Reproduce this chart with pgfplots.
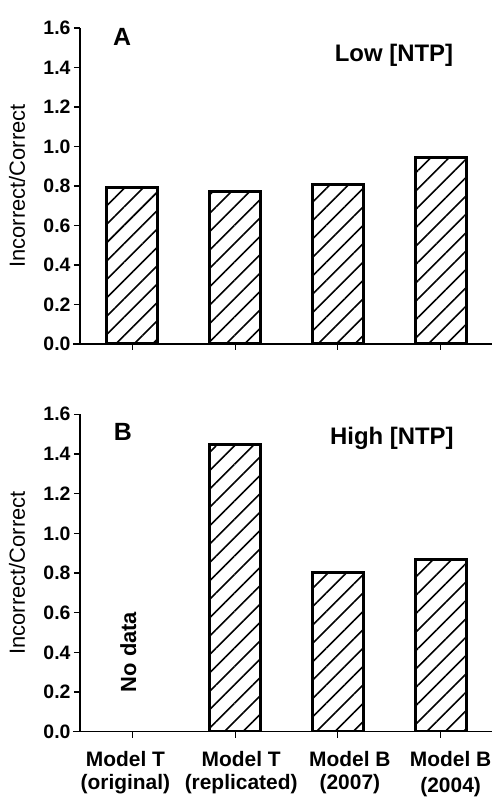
\documentclass[border=0pt]{standalone}
\usepackage{fontspec}
\setmainfont{Liberation Sans}
\usepackage{pgfplots}
\pgfplotsset{compat=1.18}
\usetikzlibrary{patterns.meta}
\begin{document}
\begin{tikzpicture}
\path (0bp,0bp) rectangle (500bp,809bp);
\pgfplotsset{myaxis/.style={
  scale only axis, width=412bp,
  xmin=-0.51, xmax=3.5, ymin=0, ymax=1.6,
  axis lines*=left,
  axis line style={line width=1.4bp, black},
  x axis line style={shorten <=-7bp},
  xtick={0,1,2,3},
  ytick={0,0.2,0.4,0.6,0.8,1.0,1.2,1.4,1.6},
  tick style={line width=1.2bp, black},
  major tick length=6bp, tick align=outside,
  /pgf/number format/assume math mode=true,
  yticklabel style={/pgf/number format/.cd, fixed, fixed zerofill, precision=1},
  ticklabel style={font=\fontsize{19.5}{21}\selectfont\bfseries},
  ylabel={Incorrect/Correct},
  ylabel style={font=\fontsize{22}{24}\selectfont, at={(axis description cs:-0.153,0.5)}, anchor=center},
  ybar, bar width=51bp,
}, mybar/.style={draw=black, line width=3bp, pattern={Lines[angle=45,distance=13bp,line width=1.6bp]}, pattern color=black}}
\begin{axis}[myaxis, at={(80bp,465bp)}, anchor=south west, height=316bp, xticklabels={}]
\addplot[mybar] coordinates {(0,0.79) (1,0.77) (2,0.81) (3,0.945)};
\node[font=\fontsize{25}{27}\selectfont\bfseries] at (axis description cs:0.102,0.972) {A};
\node[font=\fontsize{24}{26}\selectfont\bfseries] at (axis description cs:0.762,0.914) {Low [NTP]};
\end{axis}
\begin{axis}[myaxis, at={(80bp,77.3bp)}, anchor=south west, height=317.4bp,
  xticklabels={
    {\begin{tabular}{@{}c@{}}Model T\\(original)\end{tabular}\kern14bp},
    {\kern12bp\begin{tabular}{@{}c@{}}Model T\\(replicated)\end{tabular}},
    {\kern24bp\begin{tabular}{@{}c@{}}Model B\\(2007)\end{tabular}},
    {\kern20bp\raisebox{-3bp}{\begin{tabular}{@{}c@{}}Model B\\[3bp](2004)\end{tabular}}}},
  xticklabel style={font=\fontsize{21}{23}\selectfont\bfseries, yshift=-13bp, inner sep=0pt}]
\addplot[mybar] coordinates {(1,1.45) (2,0.80) (3,0.87)};
\node[font=\fontsize{25}{27}\selectfont\bfseries] at (axis description cs:0.104,0.944) {B};
\node[font=\fontsize{24}{26}\selectfont\bfseries] at (axis description cs:0.757,0.924) {High [NTP]};
\node[font=\fontsize{22}{24}\selectfont\bfseries, rotate=90] at (axis description cs:0.117,0.251) {No data};
\end{axis}
\end{tikzpicture}
\end{document}
